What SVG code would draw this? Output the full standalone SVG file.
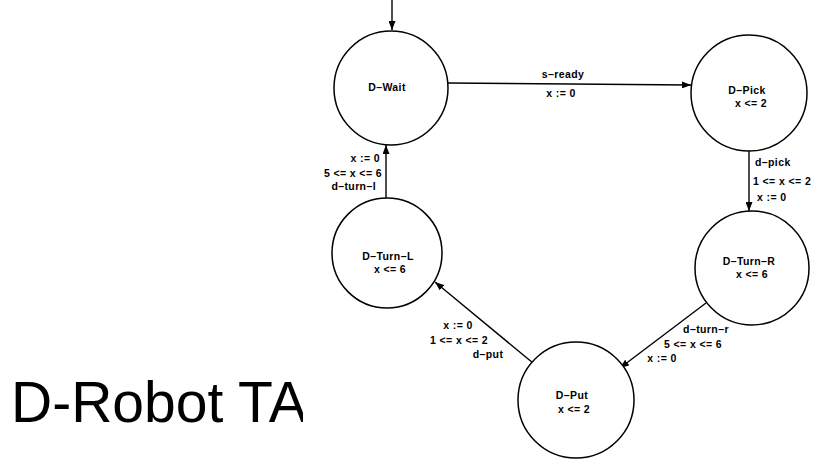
<svg xmlns="http://www.w3.org/2000/svg" width="816" height="462" viewBox="0 0 816 462">
  <style>
    .state { fill: #ffffff; stroke: #000000; stroke-width: 1.5; }
    .edge { fill: none; stroke: #000000; stroke-width: 1.4; marker-end: url(#arrow); }
    .lbl { font-family: "Liberation Sans", Arial, sans-serif; font-size: 10.5px; font-weight: bold; letter-spacing: 0.4px; fill: #000000; }
    .mid { text-anchor: middle; }
    .end { text-anchor: end; }
    .title { font-family: "Liberation Sans", Arial, sans-serif; font-size: 57px; fill: #000000; }
  </style>
  <defs>
    <marker id="arrow" markerWidth="9" markerHeight="7" refX="9" refY="3.5" orient="auto" markerUnits="userSpaceOnUse">
      <path d="M0,0 L9,3.5 L0,7 z" fill="#000000"/>
    </marker>
    <clipPath id="titleClip">
      <rect x="0" y="0" width="303" height="462"/>
    </clipPath>
  </defs>

  <rect x="0" y="0" width="816" height="462" fill="#ffffff"/>

  <!-- slide title, partly hidden behind the automaton figure -->
  <text class="title" x="11" y="422" clip-path="url(#titleClip)">D-Robot TA</text>

  <!-- transitions -->
  <g id="connectors">
    <line class="edge" x1="392" y1="0" x2="392" y2="30"/>
    <line class="edge" x1="448" y1="83" x2="691" y2="85"/>
    <line class="edge" x1="749" y1="151" x2="749" y2="211"/>
    <line class="edge" x1="706" y1="303" x2="620" y2="368"/>
    <line class="edge" x1="533" y1="363" x2="435" y2="282"/>
    <line class="edge" x1="386" y1="198" x2="386" y2="145"/>

    <text class="lbl mid" x="563" y="78">s–ready</text>
    <text class="lbl mid" x="561" y="97">x := 0</text>

    <text class="lbl" x="755" y="166">d–pick</text>
    <text class="lbl" x="753" y="185">1 &lt;= x &lt;= 2</text>
    <text class="lbl" x="757" y="201">x := 0</text>

    <text class="lbl mid" x="706" y="333">d–turn–r</text>
    <text class="lbl mid" x="693" y="348">5 &lt;= x &lt;= 6</text>
    <text class="lbl mid" x="662" y="362">x := 0</text>

    <text class="lbl mid" x="458" y="329">x := 0</text>
    <text class="lbl mid" x="459" y="344">1 &lt;= x &lt;= 2</text>
    <text class="lbl mid" x="488" y="358">d–put</text>

    <text class="lbl end" x="380" y="162">x := 0</text>
    <text class="lbl end" x="382" y="177">5 &lt;= x &lt;= 6</text>
    <text class="lbl end" x="376" y="190">d–turn–l</text>
  </g>

  <!-- locations -->
  <g id="d-wait">
    <circle class="state" cx="391" cy="88" r="57"/>
    <text class="lbl mid" x="387" y="91">D–Wait</text>
  </g>
  <g id="d-pick">
    <circle class="state" cx="749" cy="93" r="58"/>
    <text class="lbl mid" x="747" y="94">D–Pick</text>
    <text class="lbl mid" x="751" y="107">x &lt;= 2</text>
  </g>
  <g id="d-turn-r">
    <circle class="state" cx="752" cy="268" r="57"/>
    <text class="lbl mid" x="749" y="265">D–Turn–R</text>
    <text class="lbl mid" x="752" y="278">x &lt;= 6</text>
  </g>
  <g id="d-put">
    <circle class="state" cx="576" cy="400" r="58"/>
    <text class="lbl mid" x="572" y="399">D–Put</text>
    <text class="lbl mid" x="574" y="413">x &lt;= 2</text>
  </g>
  <g id="d-turn-l">
    <circle class="state" cx="387" cy="253" r="55"/>
    <text class="lbl mid" x="388" y="260">D–Turn–L</text>
    <text class="lbl mid" x="390" y="273">x &lt;= 6</text>
  </g>
</svg>
